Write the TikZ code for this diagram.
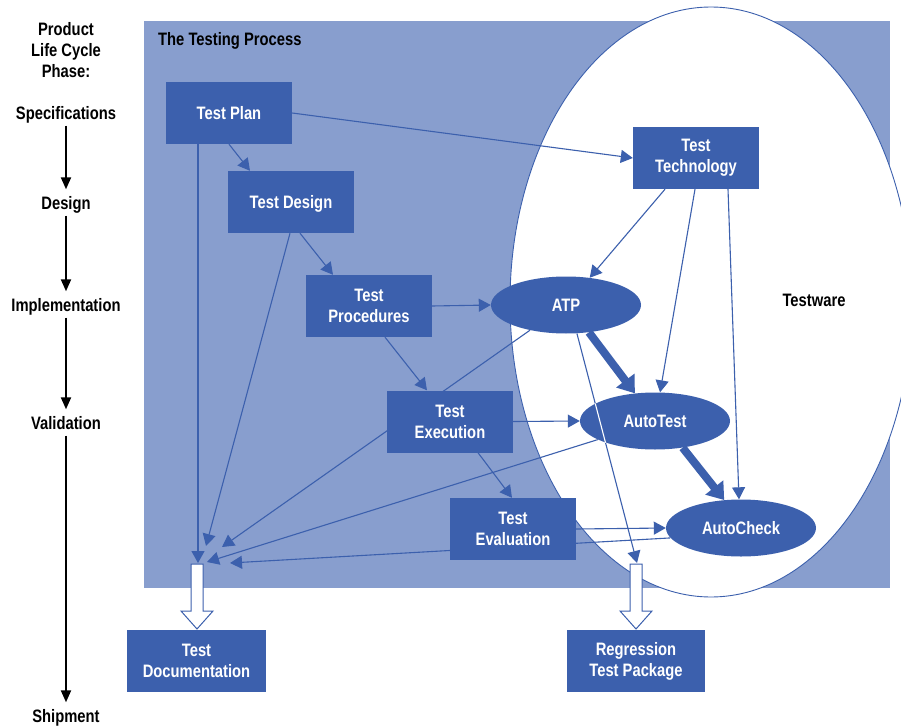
\documentclass[tikz,border=0pt]{standalone}
\usepackage{fontspec}
\setmainfont{Liberation Sans}[FakeStretch=0.82]
\usetikzlibrary{arrows.meta,calc,shapes.geometric}
\definecolor{lightbl}{HTML}{889ECE}
\definecolor{darkbl}{HTML}{3C60AD}
\pgfdeclarelayer{bg}
\pgfsetlayers{bg,main}
\begin{document}
\begin{tikzpicture}[x=1pt,y=-1pt,
  box/.style={rectangle, fill=darkbl, text=white, minimum width=126pt, minimum height=62pt,
    inner sep=0pt, align=center, font=\fontsize{18}{21}\selectfont\bfseries},
  oval/.style={ellipse, fill=darkbl, text=white, minimum width=150pt, minimum height=57pt,
    inner sep=0pt, font=\fontsize{18}{21}\selectfont\bfseries},
  phase/.style={inner sep=0pt, text height=13pt, text depth=4pt, font=\fontsize{18}{21}\selectfont\bfseries},
  lbl/.style={inner sep=0pt, align=center, font=\fontsize{18}{21}\selectfont\bfseries},
  phasearr/.style={draw=black, line width=2pt, shorten <=2pt, shorten >=7pt,
    -{Triangle[length=12pt,width=10pt]}},
  conn/.style={draw=darkbl, line width=1.1pt, -{Triangle[length=12pt,width=13pt]}},
  bigconn/.style={draw=darkbl, line width=8pt, -{Triangle[length=16pt,width=22pt]}},
  hollow/.style={draw=darkbl, fill=white, line width=1pt, line join=miter}
]
\useasboundingbox (0,0) rectangle (901,727);

% process boxes
\node[box] (plan) at (229,113) {Test Plan};
\node[box, text height=13pt, text depth=0pt] (design) at (291,202) {Test Design};
\node[box] (proc) at (369,306) {Test\\Procedures};
\node[box] (exec) at (450,421.5) {Test\\Execution};
\node[box] (eval) at (513,529) {Test\\Evaluation};
\node[box] (tech) at (696,158) {Test\\Technology};
\node[box, minimum width=139pt] (doc) at (196.5,661) {Test\\Documentation};
\node[box, minimum width=138pt] (reg) at (636,661) {Regression\\Test Package};
\node[oval] (atp) at (566,305) {ATP};
\node[oval] (autotest) at (655,421) {AutoTest};
\node[oval] (autocheck) at (741,528) {AutoCheck};

% labels
\node[lbl] (plc) at (66,50) {Product\\Life Cycle\\Phase:};
\node[phase] (spec) at (66,115) {Specifications};
\node[phase] (des) at (66,205) {Design};
\node[phase] (impl) at (66,307) {Implementation};
\node[phase] (valid) at (66,425) {Validation};
\node[phase] (ship) at (66,718) {Shipment};
\node[lbl, anchor=base west] (ttl) at (158,45.5) {The Testing Process};
\node[lbl] (tw) at (814,300) {Testware};

\draw[phasearr] (spec) -- (des);
\draw[phasearr] (des) -- (impl);
\draw[phasearr] (impl) -- (valid);
\draw[phasearr] (valid) -- (ship);

% arrow targets
\coordinate (d1) at (198,563);
\coordinate (d2) at (206,546);
\coordinate (d3) at (222,547);
\coordinate (d4) at (207,562);
\coordinate (d5) at (230,563);
\coordinate (r1) at (637,563);
\coordinate (dtop) at (197,564);
\coordinate (rtop) at (636,564);

\begin{pgfonlayer}{bg}
\fill[lightbl] (144,21) rectangle (890,588);
\begin{scope}
\clip (0,0) rectangle (901,727);
\draw[darkbl, fill=white, line width=0.9pt] (711,302) ellipse [x radius=201, y radius=295];
\end{scope}
\draw[conn] (plan.east) -- (tech.west);
\draw[conn] (plan.south) -- ($(design.north)+(-41,0)$);
\draw[conn] ($(plan.south)+(-31,0)$) -- (d1);
\draw[conn] ($(design.south)+(9,0)$) -- ($(proc.north)+(-36,0)$);
\draw[conn] ($(design.south)+(-1,0)$) -- (d2);
\draw[conn] (proc.east) -- (atp.west);
\draw[conn] ($(proc.south)+(16,0)$) -- ($(exec.north)+(-23,0)$);
\draw[conn] (atp.215) -- (d3);
\draw[conn] (exec.east) -- (autotest.west);
\draw[conn] ($(exec.south)+(28,0)$) -- ($(eval.north)+(-1,0)$);
\draw[conn] (autotest.198) -- (d4);
\draw[conn] (eval.east) -- (autocheck.west);
\draw[conn] (autocheck.188) -- (d5);
\draw[conn] ($(tech.south)+(-31,0)$) -- (atp.49);
\draw[conn] ($(tech.south)+(-1,0)$) -- (autotest.80);
\draw[conn] ($(tech.south)+(32,0)$) -- (autocheck.94);
\draw[conn] (atp.-69) -- (r1);
\end{pgfonlayer}

% white trace of the ATP line across AutoTest
\begin{scope}
\clip (655,421) ellipse [x radius=75, y radius=29];
\draw[white, line width=1.1pt] (atp.-69) -- (r1);
\end{scope}

% thick arrows
\draw[bigconn] (atp.-50) -- (autotest.126);
\draw[bigconn] (autotest.-44) -- (autocheck.121);

% hollow arrows
\draw[hollow] (dtop) ++(-6,0) -- ++(12,0) -- ++(0,47) -- ++(10,0) -- ++(-16,18) -- ++(-16,-18) -- ++(10,0) -- cycle;
\draw[hollow] (rtop) ++(-6,0) -- ++(12,0) -- ++(0,47) -- ++(10,0) -- ++(-16,18) -- ++(-16,-18) -- ++(10,0) -- cycle;
\end{tikzpicture}
\end{document}
